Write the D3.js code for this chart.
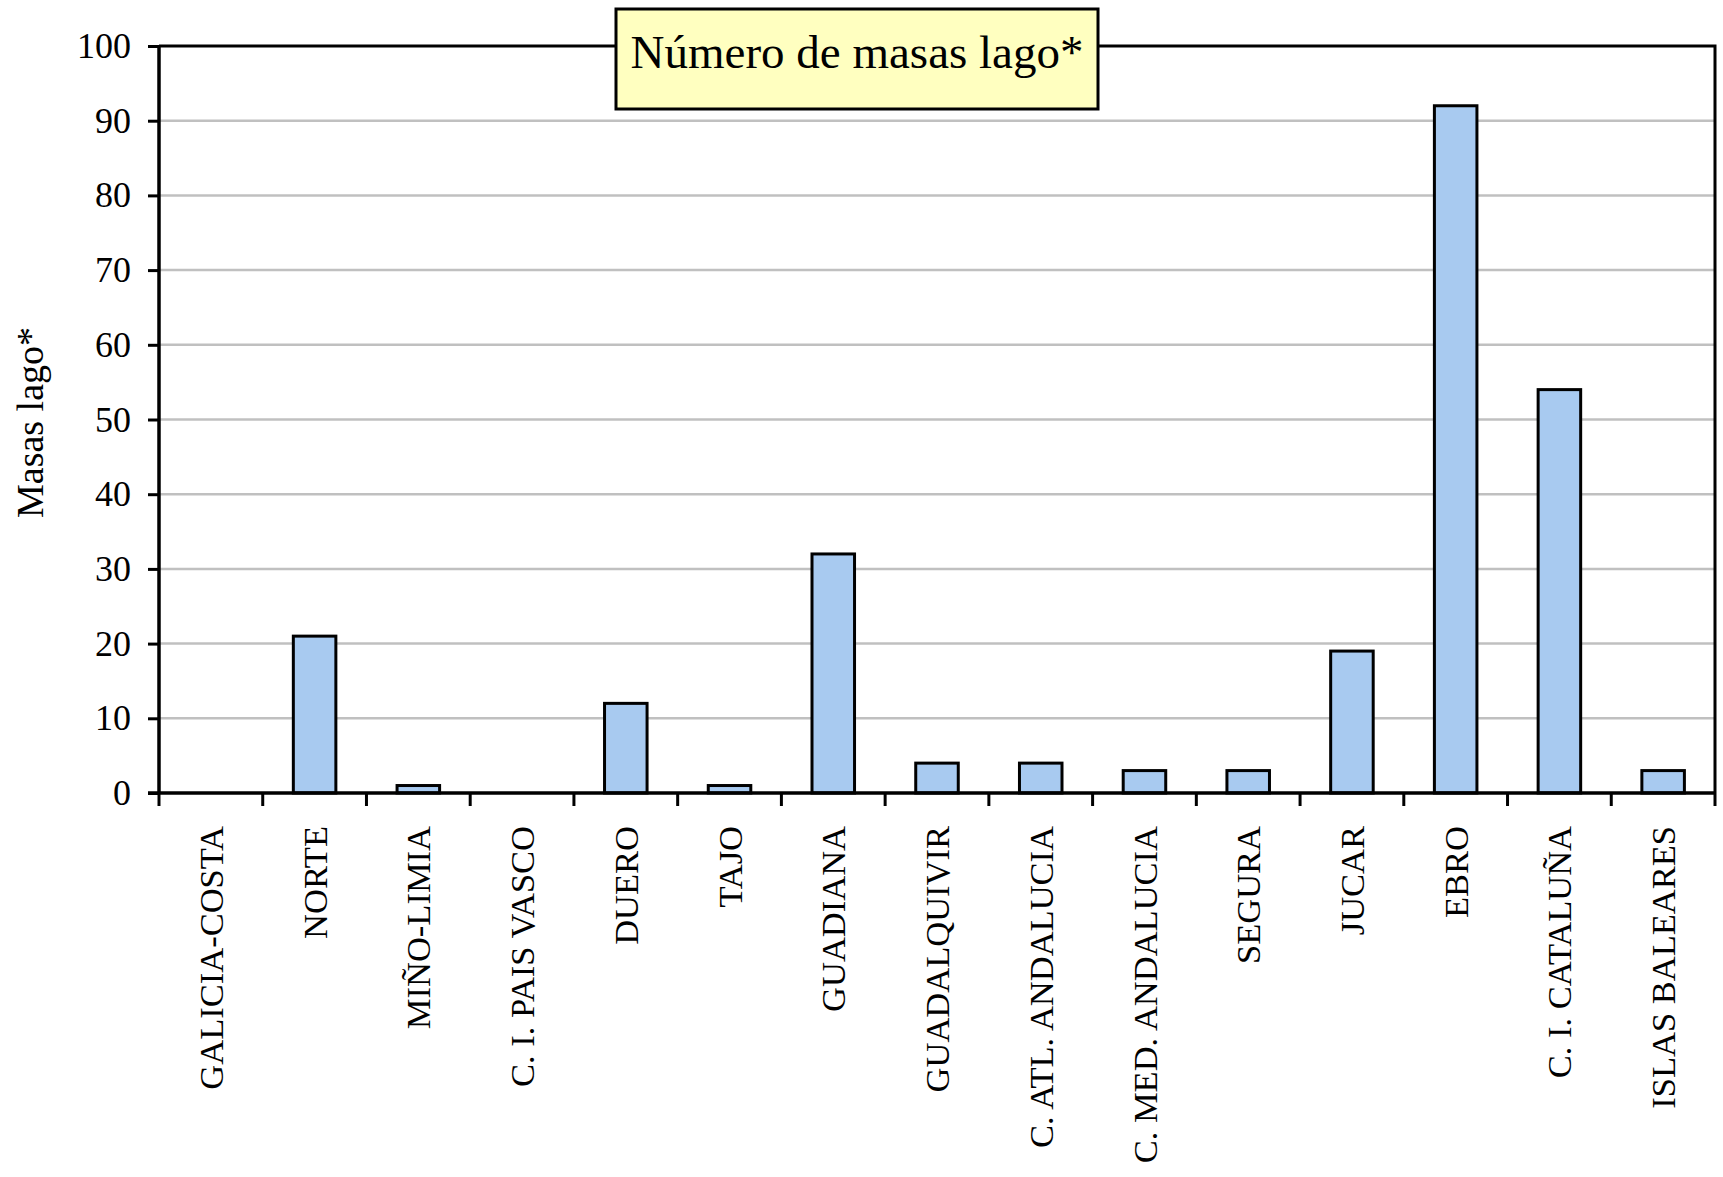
<!DOCTYPE html>
<html>
<head>
<meta charset="utf-8">
<script src="https://cdn.jsdelivr.net/npm/d3@7"></script>
<style>
  body { margin: 0; background: #fff; }
  svg { display: block; font-family: "Liberation Serif", "DejaVu Serif", serif; }
</style>
</head>
<body>
<div id="chart"></div>
<script>
// Data
const categories = ['GALICIA-COSTA', 'NORTE', 'MIÑO-LIMIA', 'C. I. PAIS VASCO', 'DUERO', 'TAJO',
  'GUADIANA', 'GUADALQUIVIR', 'C. ATL. ANDALUCIA', 'C. MED. ANDALUCIA', 'SEGURA', 'JUCAR',
  'EBRO', 'C. I. CATALUÑA', 'ISLAS BALEARES'];
const values = [0, 21, 1, 0, 12, 1, 32, 4, 4, 3, 3, 19, 92, 54, 3];
const yTicks = [0, 10, 20, 30, 40, 50, 60, 70, 80, 90, 100];
const chartTitle = 'Número de masas lago*';
const yTitle = 'Masas lago*';

const width = 1723, height = 1177;
const margin = { left: 159, right: 8, top: 46, bottom: 384 };
const plotW = width - margin.left - margin.right;
const plotH = height - margin.top - margin.bottom;

const svg = d3.select('#chart').append('svg')
  .attr('width', width)
  .attr('height', height);

const g = svg.append('g')
  .attr('transform', `translate(${margin.left},${margin.top})`);

const x = d3.scaleBand()
  .domain(categories)
  .range([0, plotW])
  .padding(0);

const y = d3.scaleLinear()
  .domain([0, 100])
  .range([plotH, 0]);

// Gridlines
g.append('g')
  .selectAll('line')
  .data(yTicks.filter(t => t > 0 && t < 100))
  .join('line')
  .attr('x1', 0)
  .attr('x2', plotW)
  .attr('y1', d => y(d))
  .attr('y2', d => y(d))
  .attr('stroke', '#c0c0c0')
  .attr('stroke-width', 2.5);

// Top and right frame
g.append('path')
  .attr('d', `M0,${y(100)}H${plotW}V${plotH}`)
  .attr('fill', 'none')
  .attr('stroke', '#000')
  .attr('stroke-width', 3);

// Bars
const barW = x.bandwidth() * 0.41;
g.append('g')
  .selectAll('rect')
  .data(values.map((v, i) => ({ cat: categories[i], v })).filter(d => d.v > 0))
  .join('rect')
  .attr('x', d => x(d.cat) + (x.bandwidth() - barW) / 2)
  .attr('y', d => y(d.v))
  .attr('width', barW)
  .attr('height', d => y(0) - y(d.v))
  .attr('fill', '#a8caf0')
  .attr('stroke', '#000')
  .attr('stroke-width', 3);

// Y axis
const yAxis = g.append('g')
  .call(d3.axisLeft(y).tickValues(yTicks).tickSize(11).tickPadding(17));
yAxis.select('.domain').attr('stroke-width', 3.5).attr('d', `M0,${y(100)}V${plotH}`);
yAxis.selectAll('.tick line').attr('stroke-width', 3);
yAxis.selectAll('text')
  .attr('font-size', 36)
  .attr('font-family', '"Liberation Serif", serif')
  .attr('fill', '#000');

// X axis: ticks at band boundaries
const xa = g.append('g').attr('transform', `translate(0,${plotH})`);
xa.append('line')
  .attr('x1', -11).attr('x2', plotW)
  .attr('stroke', '#000').attr('stroke-width', 3.5);
xa.selectAll('line.tk')
  .data(categories.map(c => x(c)).concat([plotW]))
  .join('line')
  .attr('class', 'tk')
  .attr('x1', d => d).attr('x2', d => d)
  .attr('y1', 0).attr('y2', 13)
  .attr('stroke', '#000').attr('stroke-width', 3);
xa.selectAll('text')
  .data(categories)
  .join('text')
  .attr('transform', d => `translate(${x(d) + x.bandwidth() / 2},33) rotate(-90)`)
  .attr('text-anchor', 'end')
  .attr('dy', '0.35em')
  .attr('font-size', 34.5)
  .text(d => d);

// Y title
svg.append('text')
  .attr('transform', `translate(30,${margin.top + plotH / 2 + 3}) rotate(-90)`)
  .attr('text-anchor', 'middle')
  .attr('dy', '0.35em')
  .attr('font-size', 38)
  .text(yTitle);

// Title box
const tb = { x: 616, y: 9, w: 482, h: 100 };
svg.append('rect')
  .attr('x', tb.x).attr('y', tb.y)
  .attr('width', tb.w).attr('height', tb.h)
  .attr('fill', '#ffffc0')
  .attr('stroke', '#000')
  .attr('stroke-width', 3);
svg.append('text')
  .attr('x', tb.x + tb.w / 2)
  .attr('y', 68)
  .attr('text-anchor', 'middle')
  .attr('font-size', 47)
  .text(chartTitle);
</script>
</body>
</html>
